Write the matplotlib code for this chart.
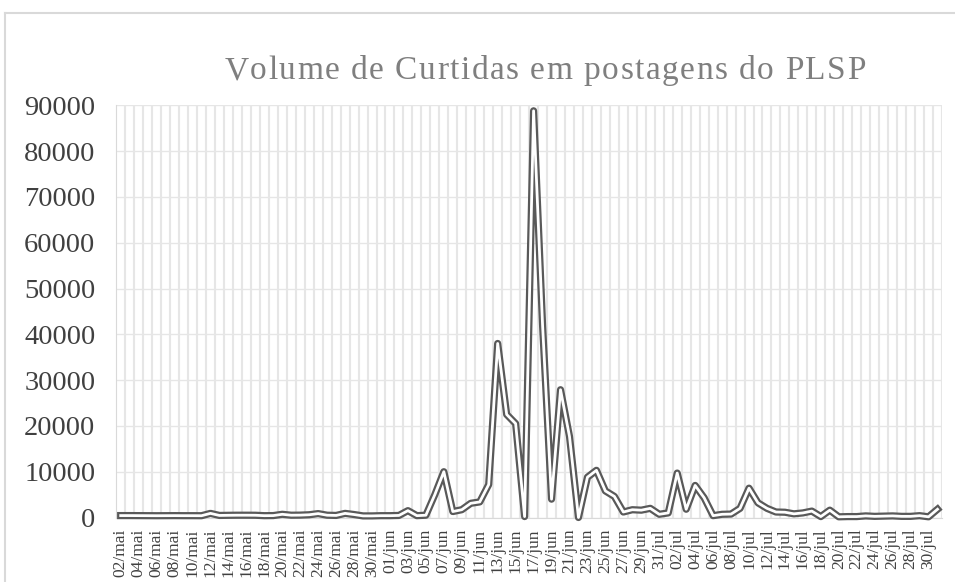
import matplotlib
matplotlib.use("Agg")
import matplotlib.pyplot as plt
from matplotlib.lines import Line2D
from matplotlib.font_manager import FontProperties
import numpy as np

# ---------------- data ----------------
categories = [
    "02/mai", "03/mai", "04/mai", "05/mai", "06/mai", "07/mai", "08/mai", "09/mai", "10/mai", "11/mai",
    "12/mai", "13/mai", "14/mai", "15/mai", "16/mai", "17/mai", "18/mai", "19/mai", "20/mai", "21/mai",
    "22/mai", "23/mai", "24/mai", "25/mai", "26/mai", "27/mai", "28/mai", "29/mai", "30/mai", "31/mai",
    "01/jun", "02/jun", "03/jun", "04/jun", "05/jun", "06/jun", "07/jun", "08/jun", "09/jun", "10/jun",
    "11/jun", "12/jun", "13/jun", "14/jun", "15/jun", "16/jun", "17/jun", "18/jun", "19/jun", "20/jun",
    "21/jun", "22/jun", "23/jun", "24/jun", "25/jun", "26/jun", "27/jun", "28/jun", "29/jun", "30/jun",
    "31/jul", "01/jul", "02/jul", "03/jul", "04/jul", "05/jul", "06/jul", "07/jul", "08/jul", "09/jul",
    "10/jul", "11/jul", "12/jul", "13/jul", "14/jul", "15/jul", "16/jul", "17/jul", "18/jul", "19/jul",
    "20/jul", "21/jul", "22/jul", "23/jul", "24/jul", "25/jul", "26/jul", "27/jul", "28/jul", "29/jul",
    "30/jul", "31/jul",
]

curtidas_mai = [420, 420, 410, 400, 390, 400, 410, 400, 400, 390,
                900, 450, 480, 500, 500, 490, 400, 420, 700, 500,
                520, 600, 850, 500, 450, 900, 650, 350, 350, 400]
curtidas_jun = [400, 450, 1500, 400, 500, 5000, 10000, 1300, 1700, 3100,
                3400, 7200, 38000, 22500, 20500, 200, 88800, 42000, 4000, 27900,
                17700, 0, 8800, 10300, 5800, 4600, 1200, 1700, 1600, 2000]
curtidas_jul = [700, 1000, 9700, 1800, 7000, 4300, 400, 700, 750, 2000,
                6400, 3200, 2000, 1200, 1150, 800, 1000, 1400, 200, 1600,
                150, 200, 200, 350, 250, 300, 350, 250, 250, 400,
                150, 1800]
values = curtidas_mai + curtidas_jun + curtidas_jul

y_ticks = [0, 10000, 20000, 30000, 40000, 50000, 60000, 70000, 80000, 90000]
title = "Volume de Curtidas em postagens do PLSP"

# ---------------- figure ----------------
W, H = 955, 582
DPI = 100
fig = plt.figure(figsize=(W / DPI, H / DPI), dpi=DPI)
fig.patch.set_facecolor("white")

SERIF = "Liberation Serif"
TXT = "#404040"
GRID = "#e6e6e6"

# chart border (only left and top visible in the crop)
fig.add_artist(Line2D([5 / W, 5 / W], [0, 1 - 13 / H], transform=fig.transFigure,
                      color="#d9d9d9", lw=1.5))
fig.add_artist(Line2D([5 / W, 1], [1 - 13 / H, 1 - 13 / H], transform=fig.transFigure,
                      color="#d9d9d9", lw=1.5))

left, right, top, bottom = 116.2, 942.0, 105.3, 517.5
ax = fig.add_axes([left / W, 1 - bottom / H, (right - left) / W, (bottom - top) / H])

n = len(values)
x = np.arange(n)
ax.plot(x, values, color="#595959", lw=5.2, solid_joinstyle="round", zorder=3, clip_on=False)
ax.plot(x, values, color="white", lw=2.0, solid_joinstyle="round", zorder=4, clip_on=False)

ax.set_xlim(-0.5, n - 0.5)
ax.set_ylim(0, 90000)

# ticks and gridlines
ax.set_yticks(y_ticks)
ax.set_yticklabels([str(v) for v in y_ticks], fontsize=20.5, family=SERIF, color=TXT)
ax.set_xticks(x[::2])
ax.set_xticklabels(categories[::2], rotation=90, fontsize=12.5, family=SERIF, color=TXT)
ax.set_xticks(np.arange(0.5, n, 1.0), minor=True)
ax.tick_params(axis="both", which="both", length=0)
ax.tick_params(axis="y", pad=15)
ax.tick_params(axis="x", pad=8)
ax.grid(axis="y", which="major", color=GRID, lw=1.0, zorder=0)
ax.grid(axis="x", which="minor", color=GRID, lw=1.5, zorder=0)
ax.set_axisbelow(True)

for s in ["top", "right"]:
    ax.spines[s].set_visible(False)
ax.spines["left"].set_color("#d9d9d9")
ax.spines["bottom"].set_color("#d9d9d9")

# ---------------- letter-spaced title ----------------
title_size = 24
spacing = 1.5
prop = FontProperties(family=SERIF, size=title_size)
renderer = fig.canvas.get_renderer()


def text_w(s):
    w, _, _ = renderer.get_text_width_height_descent(s, prop, ismath=False)
    return w

base = text_w("HH")
adv = [text_w("H" + ch + "H") - base for ch in title]
total = sum(adv) + spacing * (len(title) - 1)
cx, cy = 545, 79
px = cx - total / 2
for ch, a in zip(title, adv):
    if ch != " ":
        fig.text(px / W, 1 - cy / H, ch, fontproperties=prop, color="#7f7f7f",
                 ha="left", va="baseline")
    px += a + spacing

fig.savefig("out.png", dpi=DPI)
